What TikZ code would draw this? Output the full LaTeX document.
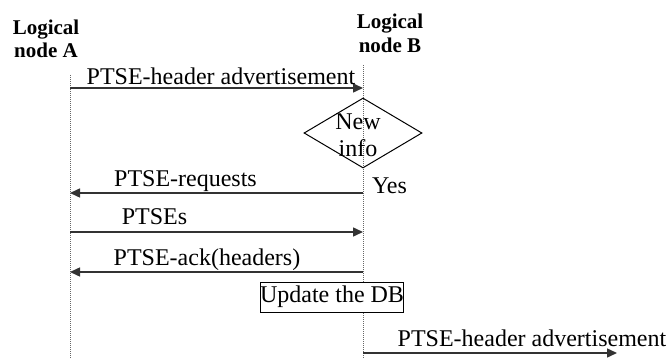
\documentclass[tikz,border=0pt]{standalone}
\usepackage{fontspec}
\setmainfont{Liberation Serif}
\usetikzlibrary{arrows.meta,shapes.geometric}
\tikzset{
  msg/.style={draw=black!80, line width=0.75pt, -{Triangle[length=5pt,width=4.5pt]}},
  lifeline/.style={draw=black!60, line width=0.5pt, dash pattern=on 0.5pt off 0.5pt},
  lbl/.style={font=\fontsize{12}{13.5}\selectfont, inner sep=0pt, anchor=base},
  head/.style={font=\fontsize{10.5}{11.75}\selectfont\bfseries, align=center, inner sep=0pt},
}
\begin{document}
\begin{tikzpicture}[x=0.5pt,y=-0.5pt]
\useasboundingbox (0,0) rectangle (670,358);
% headers
\node[head] (hA) at (46,39) {Logical\\node A};
\node[head] (hB) at (390,33.5) {Logical\\node B};
% lifeline ends
\coordinate (topA) at (70,75);
\coordinate (botA) at (70,358);
\coordinate (topB) at (363,65);
\coordinate (botB) at (363,358);
\draw[lifeline] (topA) -- (botA);
\draw[lifeline] (topB) -- (botB);
% message points
\coordinate (a1) at (70,88);   \coordinate (b1) at (363,88);
\coordinate (a2) at (70,193);  \coordinate (b2) at (363,193);
\coordinate (a3) at (70,232);  \coordinate (b3) at (363,232);
\coordinate (a4) at (70,272);  \coordinate (b4) at (363,272);
\coordinate (b5) at (363,353); \coordinate (c5) at (617,353);
% messages
\draw[msg] (a1) -- (b1);
\node[lbl] (l1) at (221,85) {PTSE-header advertisement};
% decision
\node[diamond, draw, line width=0.5pt, minimum width=59pt, minimum height=35pt, inner sep=0pt] (dec) at (363,133) {};
\node[font=\fontsize{12}{13.5}\selectfont, align=center, inner sep=0pt] (dect) at (358,135.5) {New\\info};
\draw[msg] (b2) -- (a2);
\node[lbl] (l2) at (185.5,187) {PTSE-requests};
\node[lbl] (yes) at (389.5,193) {Yes};
\draw[msg] (a3) -- (b3);
\node[lbl] (l3) at (154.5,225) {PTSEs};
\draw[msg] (b4) -- (a4);
\node[lbl] (l4) at (207,265) {PTSE-ack(headers)};
% update box
\node[draw, line width=0.5pt, fill=white, font=\fontsize{12}{13.5}\selectfont, inner xsep=0pt, inner ysep=0pt, minimum width=70pt, minimum height=15pt] (upd) at (332,297) {Update the DB};
% final message
\draw[msg] (b5) -- (c5);
\node[lbl] (l5) at (532,346) {PTSE-header advertisement};
\end{tikzpicture}
\end{document}
